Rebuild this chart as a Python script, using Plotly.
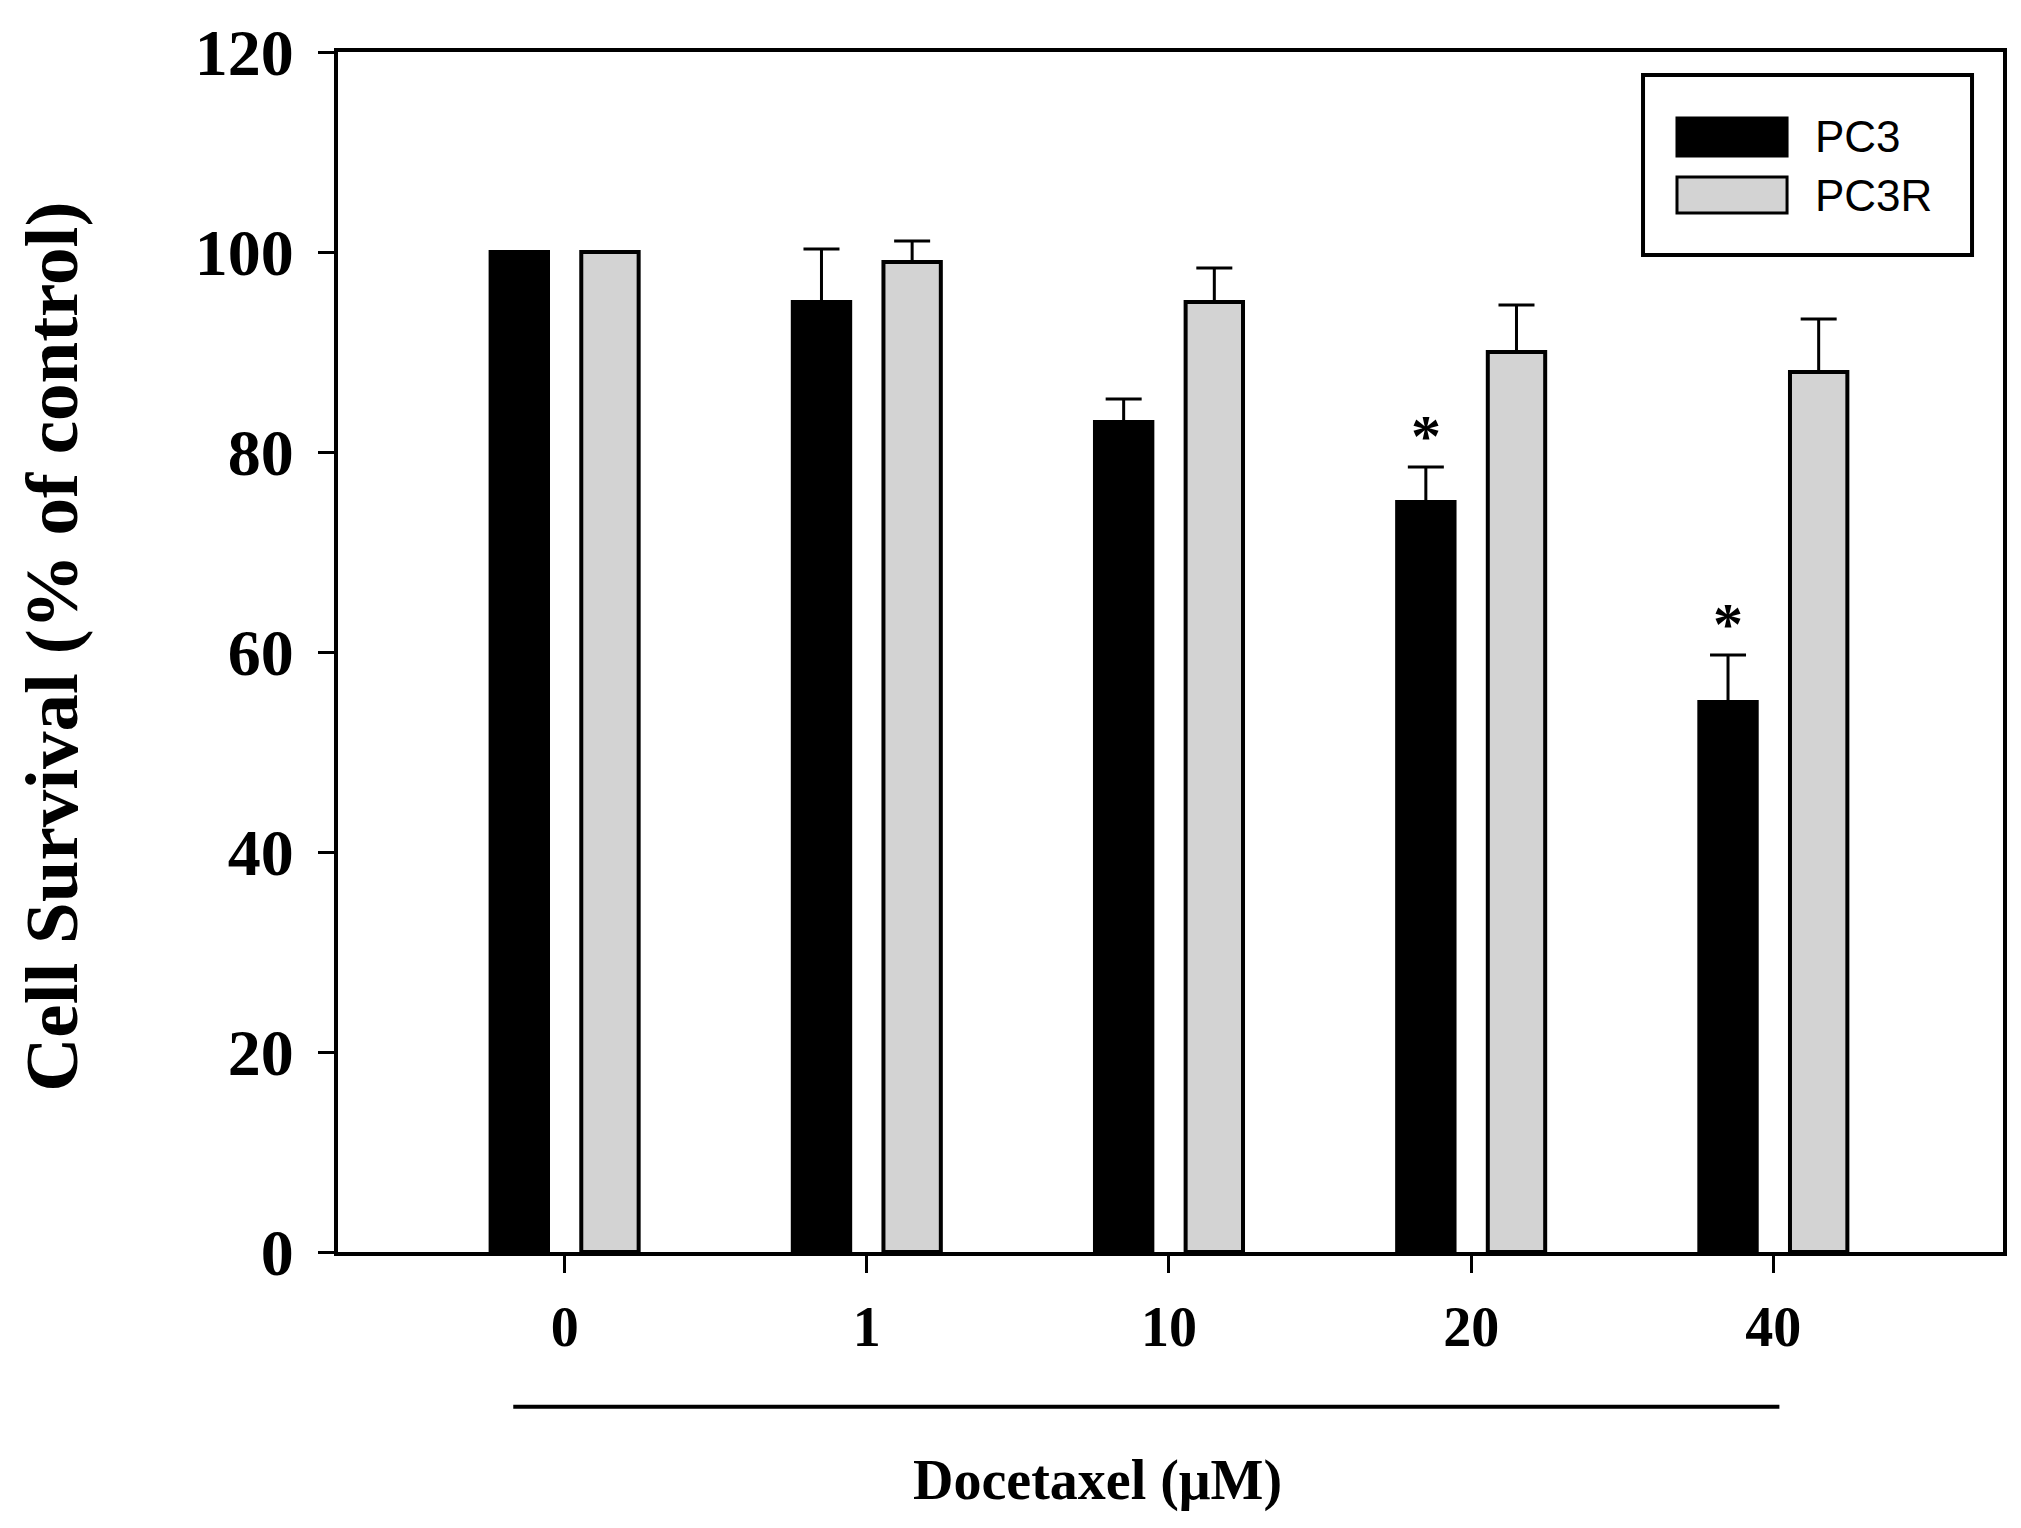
import plotly.graph_objects as go

# ---- data ----
doses = ["0", "1", "10", "20", "40"]
pc3_name = "PC3"
pc3r_name = "PC3R"
pc3_mean = [100, 95, 83, 75, 55]
pc3_err = [0, 5.3, 2.3, 3.5, 4.7]
pc3r_mean = [100, 99, 95, 90, 88]
pc3r_err = [0, 2.1, 3.4, 4.7, 5.3]
significant = [False, False, False, True, True]
y_ticks = [0, 20, 40, 60, 80, 100, 120]

# ---- layout constants ----
W, H = 2021, 1528
ML, MR, MT, MB = 330, 26, 44, 284
BARGAP = 0.4
SERIF = "Liberation Serif"
SANS = "Liberation Sans"
GRAY = "#d3d3d3"

fig = go.Figure()
fig.add_trace(go.Bar(
    x=doses, y=pc3_mean, name=pc3_name,
    marker=dict(color="black", line=dict(color="black", width=4)),
    error_y=dict(type="data", symmetric=False, array=pc3_err,
                 arrayminus=[0] * len(pc3_err), color="black",
                 thickness=3, width=18),
    showlegend=False,
))
fig.add_trace(go.Bar(
    x=doses, y=pc3r_mean, name=pc3r_name,
    marker=dict(color=GRAY, line=dict(color="black", width=4)),
    error_y=dict(type="data", symmetric=False, array=pc3r_err,
                 arrayminus=[0] * len(pc3r_err), color="black",
                 thickness=3, width=18),
    showlegend=False,
))

# significance asterisks above PC3 bars
slot = (1 - BARGAP) / 2
annotations = []
for i, (m, e, s) in enumerate(zip(pc3_mean, pc3_err, significant)):
    if s:
        annotations.append(dict(
            x=i - slot / 2, y=m + e + 3.1, xref="x", yref="y",
            text="*", showarrow=False, xanchor="center", yanchor="middle",
            font=dict(family=SERIF, size=60, color="black", weight="bold"),
        ))

# axis titles
annotations.append(dict(
    x=-0.172, y=0.504, xref="paper", yref="paper",
    text="Cell Survival (% of control)", textangle=-90, showarrow=False,
    xanchor="center", yanchor="middle",
    font=dict(family=SERIF, size=75, color="black", weight="bold"),
))
annotations.append(dict(
    x=1.765, y=-0.19, xref="x", yref="paper",
    text="Docetaxel (\u03bcM)", showarrow=False,
    xanchor="center", yanchor="middle",
    font=dict(family=SERIF, size=56, color="black", weight="bold"),
))

# custom legend (box, swatches, labels)
shapes = [
    dict(type="rect", xref="paper", yref="paper",
         x0=0.7838, x1=0.9814, y0=0.8308, y1=0.9808,
         line=dict(color="black", width=4), fillcolor="white", layer="above"),
    dict(type="rect", xref="paper", yref="paper",
         x0=0.8042, x1=0.8703, y0=0.9133, y1=0.9450,
         line=dict(color="black", width=3), fillcolor="black", layer="above"),
    dict(type="rect", xref="paper", yref="paper",
         x0=0.8042, x1=0.8703, y0=0.8658, y1=0.8958,
         line=dict(color="black", width=3), fillcolor=GRAY, layer="above"),
    # docetaxel bracket line under the dose labels
    dict(type="line", xref="x", yref="paper",
         x0=-0.17, x1=4.02, y0=-0.1290, y1=-0.1290,
         line=dict(color="black", width=4)),
]
annotations.append(dict(
    x=0.8859, y=0.9292, xref="paper", yref="paper", text=pc3_name,
    showarrow=False, xanchor="left", yanchor="middle",
    font=dict(family=SANS, size=44, color="black"),
))
annotations.append(dict(
    x=0.8859, y=0.8808, xref="paper", yref="paper", text=pc3r_name,
    showarrow=False, xanchor="left", yanchor="middle",
    font=dict(family=SANS, size=44, color="black"),
))

fig.update_layout(
    width=W, height=H,
    margin=dict(l=ML, r=MR, t=MT, b=MB, autoexpand=False),
    paper_bgcolor="white", plot_bgcolor="white",
    barmode="group", bargap=BARGAP, bargroupgap=0.367,
    showlegend=False,
    annotations=annotations,
    shapes=shapes,
)
fig.update_xaxes(
    type="category", range=[-0.75, 4.76],
    showline=True, linecolor="black", linewidth=4, mirror=True,
    ticks="outside", ticklen=17, tickwidth=3, tickcolor="black",
    ticklabelstandoff=6,
    showgrid=False, zeroline=False,
    tickfont=dict(family=SERIF, size=56, color="black", weight="bold"),
)
fig.update_yaxes(
    range=[0, 120], tickvals=y_ticks, ticktext=[str(v) for v in y_ticks],
    showline=True, linecolor="black", linewidth=4, mirror=True,
    ticks="outside", ticklen=16, tickwidth=3, tickcolor="black",
    ticklabelstandoff=11,
    showgrid=False, zeroline=False,
    tickfont=dict(family=SERIF, size=66, color="black", weight="bold"),
)

fig.write_html("out.html")
